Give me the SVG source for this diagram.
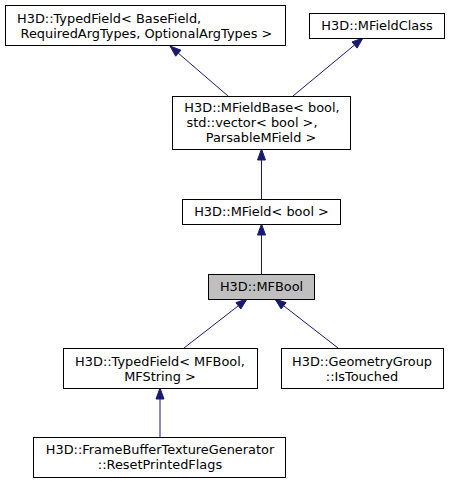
<svg xmlns="http://www.w3.org/2000/svg" width="450" height="484" viewBox="0 0 450 484">
<style>
.box{fill:#ffffff;stroke:#000000;stroke-width:1}
.cur{fill:#bfbfbf;stroke:#000000;stroke-width:1}
text{font-family:"DejaVu Sans","Liberation Sans",sans-serif;font-size:12.9px;fill:#000000}
.m{text-anchor:middle}
.e{stroke:#191970;stroke-width:1;fill:none}
.h{fill:#191970;stroke:#191970;stroke-width:1}
</style>
<rect width="450" height="484" fill="#ffffff"/>
<g id="edges">
<path class="e" d="M228,96 L178.3,53.2"/>
<polygon class="h" points="170,46 180.9,50.2 175.7,56.2"/>
<path class="e" d="M293,96 L354.5,45"/>
<polygon class="h" points="363,38 357.1,48.1 352,41.9"/>
<path class="e" d="M261.5,199 L261.5,160"/>
<polygon class="h" points="261.5,149 265.5,160 257.5,160"/>
<path class="e" d="M261.5,274 L261.5,235"/>
<polygon class="h" points="261.5,224 265.5,235 257.5,235"/>
<path class="e" d="M184,348 L238.3,305.8"/>
<polygon class="h" points="247,299 240.8,309 235.9,302.6"/>
<path class="e" d="M338,348 L283.7,305.8"/>
<polygon class="h" points="275,299 286.1,302.6 281.2,309"/>
<path class="e" d="M160,437 L160,399"/>
<polygon class="h" points="160,388 164,399 156,399"/>
</g>
<g id="n1">
<rect class="box" x="5.5" y="5.5" width="280" height="40"/>
<text x="17" y="22.5">H3D::TypedField&lt; BaseField,</text>
<text x="20.5" y="37.5">RequiredArgTypes, OptionalArgTypes &gt;</text>
</g>
<g id="n2">
<rect class="box" x="309.5" y="13.5" width="135" height="25"/>
<text class="m" x="377" y="30">H3D::MFieldClass</text>
</g>
<g id="n3">
<rect class="box" x="172.5" y="96.5" width="178" height="53"/>
<text class="m" x="262" y="112">H3D::MFieldBase&lt; bool,</text>
<text class="m" x="252" y="127">std::vector&lt; bool &gt;,</text>
<text class="m" x="261" y="142">ParsableMField &gt;</text>
</g>
<g id="n4">
<rect class="box" x="182.5" y="199.5" width="158" height="25"/>
<text class="m" x="261.5" y="216">H3D::MField&lt; bool &gt;</text>
</g>
<g id="n5">
<rect class="cur" x="208.5" y="274.5" width="106" height="25"/>
<text class="m" x="261.5" y="291">H3D::MFBool</text>
</g>
<g id="n6">
<rect class="box" x="63.5" y="348.5" width="194" height="40"/>
<text class="m" x="160" y="365.5">H3D::TypedField&lt; MFBool,</text>
<text class="m" x="160" y="380.5">MFString &gt;</text>
</g>
<g id="n7">
<rect class="box" x="281.5" y="348.5" width="162" height="40"/>
<text class="m" x="362" y="365.5">H3D::GeometryGroup</text>
<text class="m" x="362" y="380.5">::IsTouched</text>
</g>
<g id="n8">
<rect class="box" x="33.5" y="437.5" width="252" height="40"/>
<text class="m" x="160" y="454">H3D::FrameBufferTextureGenerator</text>
<text class="m" x="160" y="469">::ResetPrintedFlags</text>
</g>
</svg>
